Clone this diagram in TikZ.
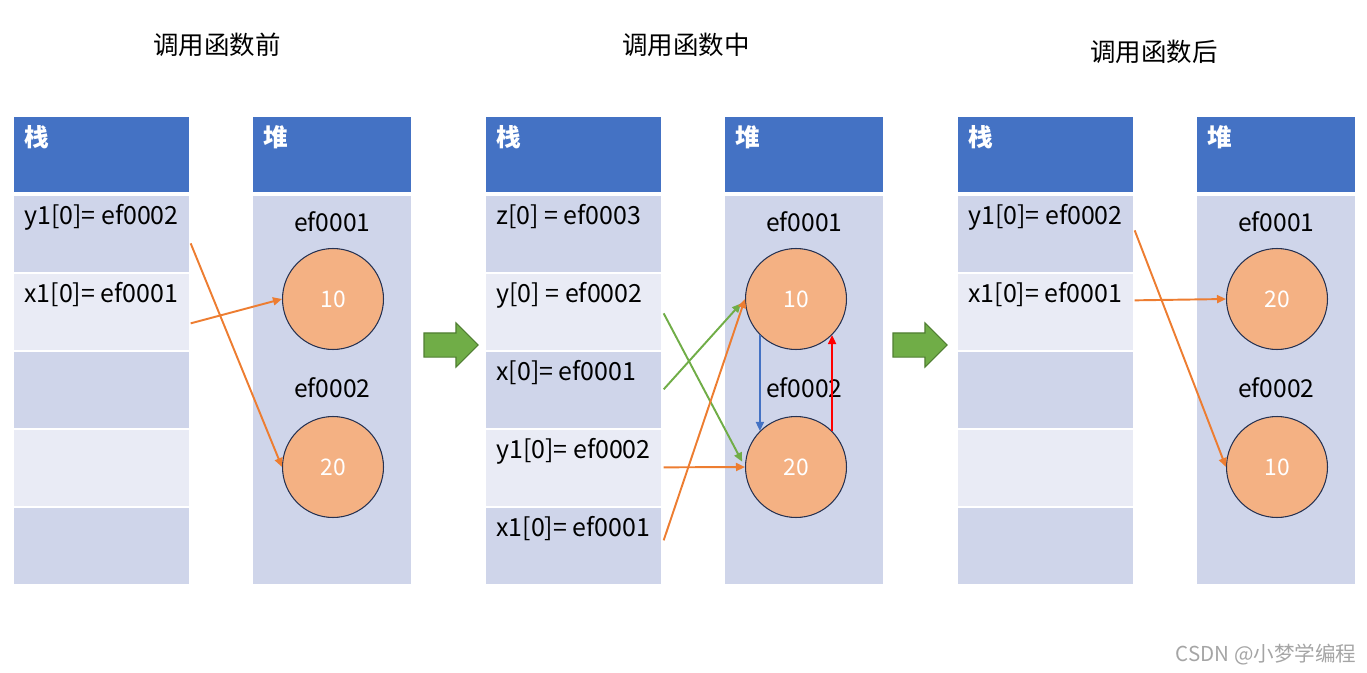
\documentclass[tikz,border=0pt]{standalone}
\usepackage{fontspec}
\setmainfont{Noto Sans CJK SC}
\usetikzlibrary{arrows.meta,calc,shapes.arrows}
\definecolor{headblue}{RGB}{68,114,196}
\definecolor{celldark}{RGB}{207,213,234}
\definecolor{celllight}{RGB}{233,235,245}
\definecolor{objfill}{RGB}{244,177,131}
\definecolor{objedge}{RGB}{38,50,82}
\definecolor{ptrorange}{RGB}{237,125,49}
\definecolor{ptrgreen}{RGB}{112,173,71}
\definecolor{arrowedge}{RGB}{80,126,50}
\definecolor{swapred}{RGB}{255,0,0}
\definecolor{wmgray}{RGB}{165,165,165}
\tikzset{
  cellbox/.style={rectangle,inner sep=0pt,minimum width=3.5cm,minimum height=1.52cm},
  darkcell/.style={cellbox,fill=celldark},
  lightcell/.style={cellbox,fill=celllight},
  headbox/.style={rectangle,fill=headblue,inner sep=0pt,minimum height=1.5cm},
  headtext/.style={anchor=north west,inner sep=0pt,text=white,
    font=\fontsize{14}{16}\selectfont\bfseries},
  heapbody/.style={rectangle,fill=celldark,inner sep=0pt,
    minimum width=3.16cm,minimum height=7.76cm},
  obj/.style={circle,draw=objedge,line width=0.6pt,fill=objfill,
    minimum size=2.02cm,inner sep=0pt,text=white,font=\fontsize{13}{15}\selectfont},
  addr/.style={inner sep=0pt,font=\fontsize{14}{16}\selectfont},
  slot/.style={anchor=base west,inner sep=0pt,font=\fontsize{14.2}{16}\selectfont},
  stagetitle/.style={inner sep=0pt,font=\fontsize{14.5}{17}\selectfont},
  bigarrow/.style={single arrow,draw=arrowedge,fill=ptrgreen,line width=0.6pt,
    minimum height=1.08cm,single arrow head extend=0.2cm,
    inner xsep=0pt,inner ysep=0.23cm},
  ptr/.style={-{Triangle[length=1.8mm,width=1.6mm]},line width=1.1pt,draw=ptrorange},
  ptrg/.style={ptr,draw=ptrgreen,shorten >=0.12cm},
  swap/.style={-{Triangle[length=1.8mm,width=1.6mm]},line width=1.1pt},
  wmark/.style={inner sep=0pt,text=wmgray,font=\fontsize{11.7}{14}\selectfont}
}

\begin{document}
\begin{tikzpicture}[x=0.02cm,y=-0.02cm]
  \useasboundingbox (0,0) rectangle (1367,673);
  % three snapshots: stack on the left, heap on the right
  \foreach \p/\x/\dx/\up/\dn in {1/0/0/10/20,2/472/-9/10/20,3/944/0/20/10}{
    \node[headbox,minimum width=3.5cm,anchor=north west] (sh\p) at ({14+\x},117) {};
    \node[headtext] (st\p) at ($(sh\p.north west)+(10,8)$) {栈};
    \foreach \i/\c in {1/darkcell,2/lightcell,3/darkcell,4/lightcell,5/darkcell}
      \node[\c,anchor=north west] (s\p-\i) at ({14+\x},{196+78*(\i-1)}) {};
    \node[headbox,minimum width=3.16cm,anchor=north west] (hh\p) at ({253+\x},117) {};
    \node[headtext] (ht\p) at ($(hh\p.north west)+(10,8)$) {堆};
    \node[heapbody,anchor=north west] (hb\p) at ({253+\x},196) {};
    \node[addr] (ea\p) at ($(hb\p.north)+(0,26)$) {ef0001};
    \node[addr] (eb\p) at ($(hb\p.north)+(0,192)$) {ef0002};
    \node[obj] (top\p) at ({333+\x+\dx},299) {\up};
    \node[obj] (bot\p) at ({333+\x+\dx},467) {\dn};
  }
  \node[stagetitle] (before) at (217,45) {调用函数前};
  \node[stagetitle] (during) at (686,45) {调用函数中};
  \node[stagetitle] (after) at (1154,52) {调用函数后};
  \node[bigarrow] (go1) at (445,345) {};
  \node[bigarrow] (go2) at (914,345) {};

  \node[slot] (y1a) at ($(s1-1.north west)+(10,28)$) {y1[0]= ef0002};
  \node[slot] (x1a) at ($(s1-2.north west)+(10,28)$) {x1[0]= ef0001};
  \node[slot] (zb) at ($(s2-1.north west)+(10,28)$) {z[0] = ef0003};
  \node[slot] (yb) at ($(s2-2.north west)+(10,28)$) {y[0] = ef0002};
  \node[slot] (xb) at ($(s2-3.north west)+(10,28)$) {x[0]= ef0001};
  \node[slot] (y1b) at ($(s2-4.north west)+(10,28)$) {y1[0]= ef0002};
  \node[slot] (x1b) at ($(s2-5.north west)+(10,28)$) {x1[0]= ef0001};
  \node[slot] (y1c) at ($(s3-1.north west)+(10,28)$) {y1[0]= ef0002};
  \node[slot] (x1c) at ($(s3-2.north west)+(10,28)$) {x1[0]= ef0001};

  \draw[ptr] ($(s1-1.east)+(1,9)$) -- (bot1.west);
  \draw[ptr] ($(s1-2.east)+(1,11)$) -- (top1.west);
  \draw[ptrg] ($(s2-2.east)+(2,1)$) -- (bot2.west);
  \draw[ptrg] ($(s2-3.east)+(2,-1)$) -- (top2.west);
  \draw[ptr] ($(s2-4.east)+(2,-1)$) -- (bot2.west);
  \draw[ptr] ($(s2-5.east)+(2,-6)$) -- (top2.west);
  \draw[swap,draw=headblue] (top2.225) -- (bot2.135);
  \draw[swap,draw=swapred] (bot2.45) -- (top2.315);
  \draw[ptr] ($(s3-1.east)+(1,-4)$) -- (bot3.west);
  \draw[ptr] ($(s3-2.east)+(1,-12)$) -- (top3.west);

  \node[wmark] (wm) at (1266,655) {CSDN @小梦学编程};
\end{tikzpicture}
\end{document}
